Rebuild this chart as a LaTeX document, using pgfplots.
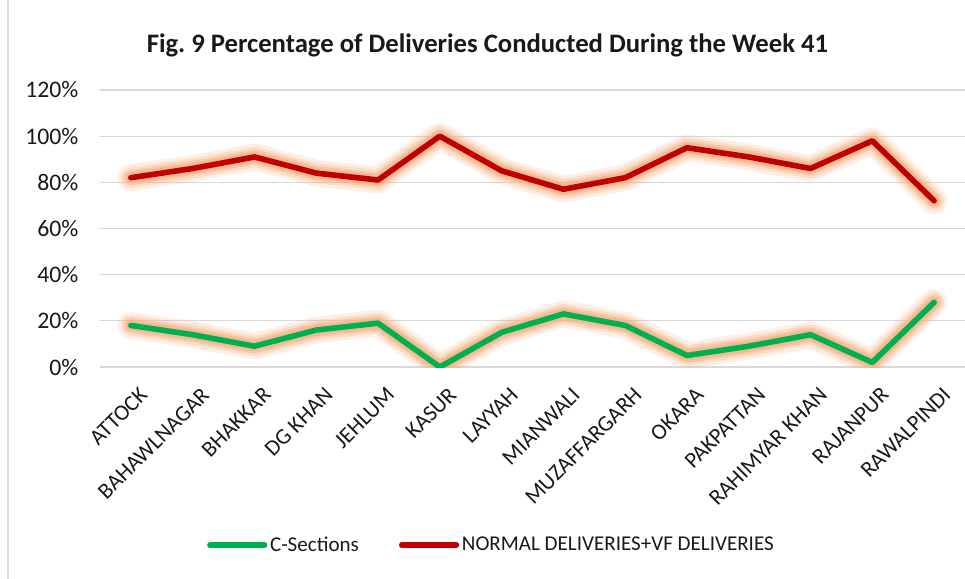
\documentclass[border=0pt]{standalone}
\usepackage{pgfplots}
\pgfplotsset{compat=1.18}
\usepackage{pgfplotstable}
\usepackage{fontspec}
\setmainfont{Carlito}

\definecolor{csec}{HTML}{00B050}
\definecolor{normal}{HTML}{C00000}
\definecolor{glow}{HTML}{F4B183}
\definecolor{gridgray}{HTML}{D9D9D9}

% district, C-Sections, normal + VF deliveries (percent)
\pgfplotstableread{
idx csec normal
0  18 82
1  14 86
2   9 91
3  16 84
4  19 81
5   0 100
6  15 85
7  23 77
8  18 82
9   5 95
10  9 91
11 14 86
12  2 98
13 28 72
}\deliveries

\begin{document}
\begin{tikzpicture}
\useasboundingbox (-75pt,-159pt) rectangle (648.75pt,275.25pt);
\draw[gridgray, line width=1.2pt] (-69pt,-159pt) -- (-69pt,275.25pt);
\begin{axis}[
  at={(0,0)}, anchor=south west,
  scale only axis,
  width=648.75pt, height=207.75pt,
  xmin=-0.5, xmax=13.5,
  ymin=0, ymax=120,
  xtick={0,...,13},
  xticklabels={ATTOCK,BAHAWLNAGAR,BHAKKAR,DG KHAN,JEHLUM,KASUR,LAYYAH,MIANWALI,MUZAFFARGARH,OKARA,PAKPATTAN,RAHIMYAR KHAN,RAJANPUR,RAWALPINDI},
  ytick={0,20,...,120},
  yticklabel={\pgfmathprintnumber{\tick}\%},
  /pgf/number format/assume math mode=true,
  axis line style={draw=none},
  tick style={draw=none},
  ymajorgrids,
  major grid style={gridgray, line width=0.9pt},
  ticklabel style={font=\fontsize{16.8pt}{19pt}\selectfont, text=black!90},
  yticklabel style={inner sep=0pt, xshift=-16pt, font=\fontsize{17.8pt}{20pt}\selectfont},
  xticklabel style={rotate=45, anchor=north east, inner sep=0pt, xshift=-6pt, yshift=-14pt},
  legend columns=2,
  legend style={draw=none, fill=none, at={(axis description cs:0.453,-0.643)}, anchor=center,
    font=\fontsize{15.8pt}{18pt}\selectfont, text=black!90,
    /tikz/every even column/.append style={column sep=28pt}},
  legend image code/.code={\draw[#1, line width=4.2pt, line cap=round] (0pt,0pt) -- (41pt,0pt);},
  line join=round, line cap=round,
]
% glow layers
\foreach \s in {csec,normal}{
  \addplot[glow, opacity=0.2, line width=20pt, forget plot] table[x=idx, y=\s] {\deliveries};
  \addplot[glow, opacity=0.3, line width=15pt, forget plot] table[x=idx, y=\s] {\deliveries};
  \addplot[glow, opacity=0.45, line width=11pt, forget plot] table[x=idx, y=\s] {\deliveries};
  \addplot[glow, opacity=0.6, line width=8pt, forget plot] table[x=idx, y=\s] {\deliveries};
}
% series
\addplot[csec, line width=4.2pt] table[x=idx, y=csec] {\deliveries};
\addlegendentry{C-Sections}
\addplot[normal, line width=4.2pt] table[x=idx, y=normal] {\deliveries};
\addlegendentry{NORMAL DELIVERIES+VF DELIVERIES}
\end{axis}
\node[font=\bfseries\fontsize{20pt}{23pt}\selectfont, text=black!90] at (290.6pt,241.5pt) {Fig.\ 9 Percentage of Deliveries Conducted During the Week 41};
\end{tikzpicture}
\end{document}
